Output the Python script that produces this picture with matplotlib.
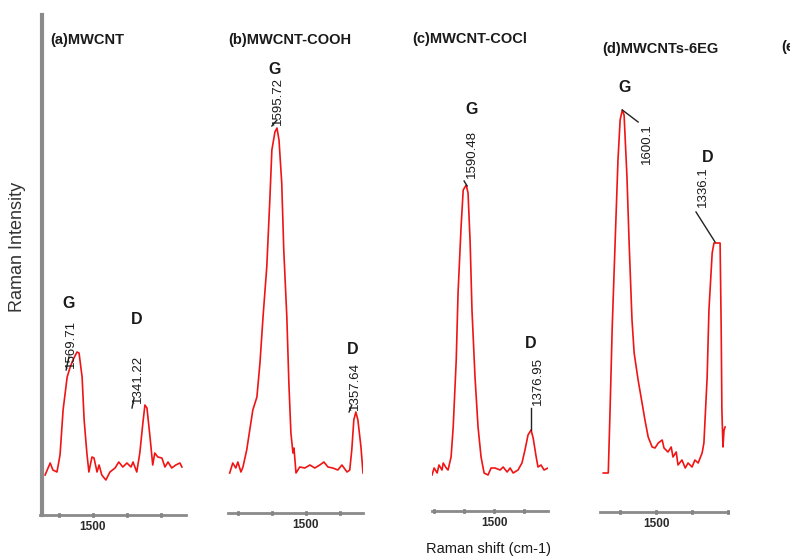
import matplotlib.pyplot as plt
from matplotlib.ticker import MultipleLocator, FuncFormatter

plt.rcParams['font.family'] = ['Liberation Sans', 'DejaVu Sans']

# Raman spectra (shift in cm-1, intensity in a.u.)
shift_a = [1641, 1626, 1618, 1606, 1597, 1588, 1576, 1568, 1559, 1547, 1541, 1532, 1526, 1518,
           1512, 1503, 1497, 1488, 1482, 1474, 1462, 1450, 1435, 1424, 1412, 1400, 1388, 1382,
           1371, 1362, 1353, 1347, 1341, 1332, 1324, 1318, 1309, 1297, 1288, 1279, 1268, 1256,
           1244, 1238]
int_a = [40, 52, 45, 43, 60, 105, 138, 147, 155, 163, 162, 138, 95, 62,
         43, 58, 57, 43, 50, 40, 35, 43, 47, 53, 48, 52, 48, 53,
         43, 62, 92, 110, 107, 78, 50, 62, 58, 57, 48, 53, 47, 50,
         52, 48]

shift_b = [1724, 1715, 1706, 1700, 1691, 1685, 1674, 1665, 1656, 1644, 1635, 1626, 1615, 1606,
           1600, 1591, 1585, 1579, 1571, 1565, 1556, 1550, 1544, 1538, 1535, 1529, 1518, 1503,
           1488, 1474, 1459, 1447, 1435, 1421, 1406, 1394, 1379, 1371, 1365, 1359, 1353, 1347,
           1338, 1332]
int_b = [42, 52, 47, 53, 43, 48, 65, 85, 105, 118, 152, 198, 248, 315,
         365, 383, 387, 375, 332, 265, 198, 132, 82, 62, 67, 42, 48, 47,
         50, 47, 50, 53, 48, 47, 45, 50, 43, 45, 65, 95, 103, 95,
         68, 42]

shift_c = [1705, 1698, 1688, 1682, 1672, 1668, 1658, 1652, 1642, 1635, 1625, 1619, 1609, 1602,
           1592, 1586, 1579, 1573, 1563, 1553, 1543, 1533, 1520, 1510, 1497, 1480, 1470, 1457,
           1447, 1437, 1421, 1408, 1398, 1388, 1378, 1371, 1361, 1355, 1345, 1335, 1322]
int_c = [40, 47, 42, 50, 45, 52, 47, 45, 58, 88, 155, 222, 288, 325,
         330, 322, 272, 205, 138, 88, 58, 42, 40, 47, 47, 45, 48, 43,
         47, 42, 45, 52, 65, 80, 85, 77, 58, 48, 50, 45, 47]

shift_d = [1647, 1633, 1628, 1622, 1614, 1606, 1600, 1594, 1589, 1581, 1575, 1567, 1561, 1550,
           1539, 1531, 1522, 1511, 1503, 1494, 1483, 1478, 1467, 1458, 1453, 1444, 1439, 1428,
           1419, 1411, 1400, 1392, 1383, 1372, 1367, 1358, 1353, 1344, 1339, 1328, 1322, 1319,
           1317, 1314, 1311, 1308]
int_d = [42, 42, 105, 188, 272, 355, 395, 405, 400, 338, 272, 195, 162, 135,
         112, 95, 78, 68, 67, 72, 75, 67, 63, 68, 58, 63, 50, 55,
         47, 52, 48, 55, 52, 62, 72, 138, 205, 262, 272, 272, 272, 188,
         105, 68, 85, 88]

titles = ['(a)MWCNT', '(b)MWCNT-COOH', '(c)MWCNT-COCl', '(d)MWCNTs-6EG']
peak_labels = [['1569.71', '1341.22'], ['1595.72', '1357.64'],
               ['1590.48', '1376.95'], ['1600.1', '1336.1']]

W, H = 790, 559
fig = plt.figure(figsize=(W / 100, H / 100), dpi=100)
red = '#f01414'
txt = '#1a1a1a'


def add_panel(x0, x1, ybot, xlim):
    ax = fig.add_axes([x0 / W, 1 - ybot / H, (x1 - x0) / W, (ybot - 15) / H])
    ax.set_xlim(*xlim)
    ax.set_ylim(515 - ybot, 515 - ybot + (ybot - 15))
    for s in ['top', 'right', 'left']:
        ax.spines[s].set_visible(False)
    ax.spines['bottom'].set_color('#8a8a8a')
    ax.spines['bottom'].set_linewidth(2)
    ax.set_yticks([])
    ax.xaxis.set_major_locator(MultipleLocator(100))
    ax.xaxis.set_major_formatter(FuncFormatter(lambda v, p: '1500' if abs(v - 1500) < 1 else ''))
    ax.tick_params(axis='x', direction='inout', length=3, width=2, color='#2a2a2a',
                   labelsize=8.5, pad=3, labelcolor='#2a2a2a')
    for lab in ax.get_xticklabels():
        lab.set_fontweight('bold')
    ax.patch.set_alpha(0)
    return ax


axa = add_panel(40, 186, 515, (1656, 1226))
axb = add_panel(228, 363, 513, (1729, 1332))
axc = add_panel(432, 548, 511, (1705, 1322))
axd = add_panel(600, 728, 512, (1656, 1300))

# main intensity axis
axa.spines['left'].set_visible(True)
axa.spines['left'].set_color('#8a8a8a')
axa.spines['left'].set_linewidth(3)
axa.spines['left'].set_position(('axes', 0.012))

for ax, xs, ys in [(axa, shift_a, int_a), (axb, shift_b, int_b),
                   (axc, shift_c, int_c), (axd, shift_d, int_d)]:
    ax.plot(xs, ys, color=red, lw=1.2)

gd = dict(fontsize=11.5, fontweight='bold', color=txt, ha='center', va='center')
num = dict(fontsize=9.5, rotation=90, color=txt, ha='center')
lead = dict(color='#222222', lw=1)

# (a)
axa.text(1573, 212, 'G', **gd)
axa.text(1371, 195, 'D', **gd)
axa.text(1565, 147, peak_labels[0][0], va='bottom', **num)
axa.text(1368, 112, peak_labels[0][1], va='bottom', **num)
axa.plot([1579, 1571], [145, 158], **lead)
axa.plot([1385, 1379], [107, 117], **lead)

# (b)
axb.text(1591, 446, 'G', **gd)
axb.text(1362, 165, 'D', **gd)
axb.text(1582, 390, peak_labels[1][0], va='bottom', **num)
axb.text(1356, 105, peak_labels[1][1], va='bottom', **num)
axb.plot([1600, 1585], [389, 395], **lead)
axb.plot([1373, 1365], [103, 110], **lead)

# (c)
axc.text(1573, 406, 'G', **gd)
axc.text(1378, 172, 'D', **gd)
axc.text(1573, 337, peak_labels[2][0], va='bottom', **num)
axc.text(1355, 110, peak_labels[2][1], va='bottom', **num)
axc.plot([1599, 1589], [334, 329], **lead)
axc.plot([1378, 1378], [107, 85], **lead)

# (d)
axd.text(1589, 427, 'G', **gd)
axd.text(1356, 357, 'D', **gd)
axd.text(1525, 392, peak_labels[3][0], va='top', **num)
axd.text(1369, 308, peak_labels[3][1], va='bottom', **num)
axd.plot([1594, 1550], [405, 393], **lead)
axd.plot([1389, 1336], [303, 273], **lead)

# panel titles (the fifth one is cut by the right edge, as in the source figure)
title_pos = [(50, 40), (228, 40), (412, 39), (602, 49), (781, 47)]
for t, (px, py) in zip(titles + ['(e)'], title_pos):
    fig.text(px / W, 1 - py / H, t, fontsize=10.5, fontweight='bold', color=txt,
             ha='left', va='center')

fig.text(18 / W, 1 - 247 / H, 'Raman Intensity', rotation=90, fontsize=13,
         color='#333333', ha='center', va='center')
fig.text(489 / W, 1 - 549 / H, 'Raman shift (cm-1)', fontsize=10.5,
         color=txt, ha='center', va='center')

fig.savefig('out.png', dpi=100)
